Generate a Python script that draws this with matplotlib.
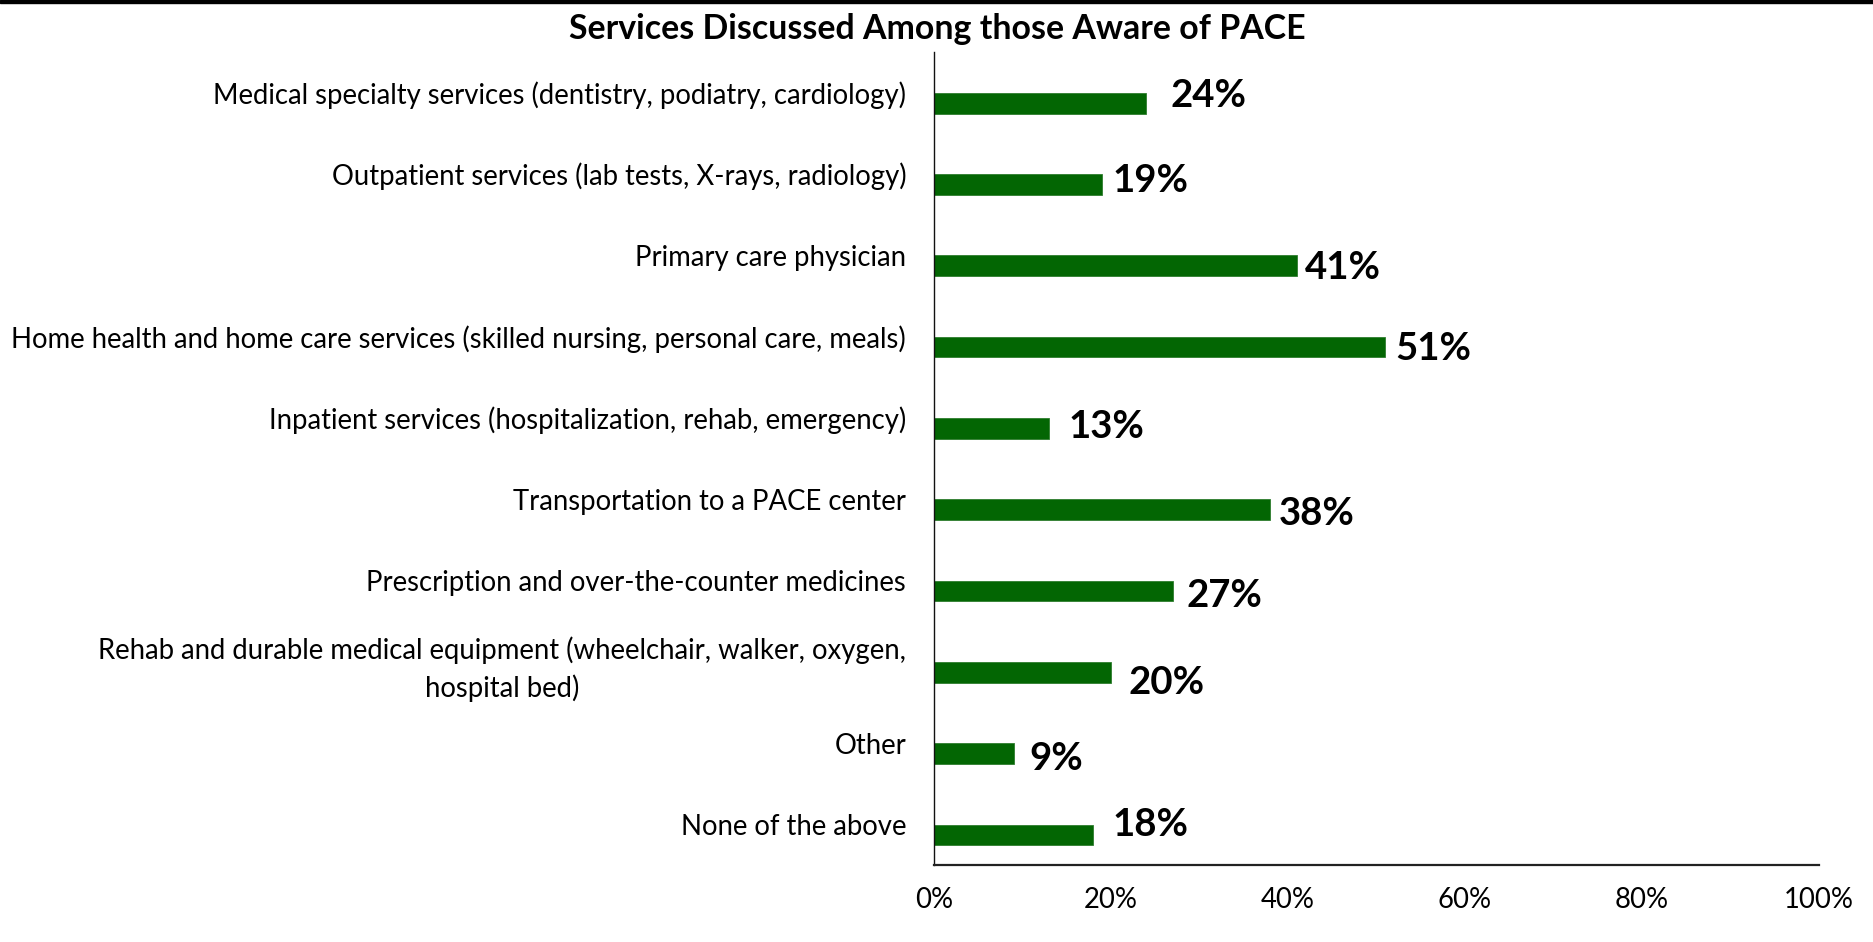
import matplotlib
matplotlib.use("Agg")
import matplotlib.pyplot as plt
from matplotlib.patches import Rectangle

plt.rcParams['font.family'] = ['Lato', 'DejaVu Sans']

categories = [
    "Medical specialty services (dentistry, podiatry, cardiology)",
    "Outpatient services (lab tests, X-rays, radiology)",
    "Primary care physician",
    "Home health and home care services (skilled nursing, personal care, meals)",
    "Inpatient services (hospitalization, rehab, emergency)",
    "Transportation to a PACE center",
    "Prescription and over-the-counter medicines",
    "Rehab and durable medical equipment (wheelchair, walker, oxygen,\nhospital bed)",
    "Other",
    "None of the above",
]
values = [24, 19, 41, 51, 13, 38, 27, 20, 9, 18]
xticks = [0, 20, 40, 60, 80, 100]
xticklabels = ["0%", "20%", "40%", "60%", "80%", "100%"]
title = "Services Discussed Among those Aware of PACE"

# label placement nudges (pixels) as in the original chart
label_dx = [24, 10, 8, 10, 19, 8, 14, 17, 16, 19]
label_dy = [-7, -4, 2, 2, -1, 4, 5, 11, 5, -10]

W, H = 1874, 942
fig = plt.figure(figsize=(W / 100, H / 100), dpi=100)
ax = fig.add_axes([934 / W, 1 - 865 / H, (1819 - 934) / W, (865 - 52) / H])

bar_color = "#036603"
ypos = list(range(len(categories)))
bar_off = 0.13
ax.barh([y + bar_off for y in ypos], values, height=0.255, color=bar_color,
        edgecolor="#2e7d2e", linewidth=0.6)

ax.set_xlim(0, 100)
ax.set_ylim(len(categories) - 0.5, -0.5)
ax.set_xticks(xticks)
ax.set_xticklabels(xticklabels)
ax.set_yticks(ypos)
ax.set_yticklabels(categories)
ax.tick_params(axis='both', length=0)
ax.tick_params(axis='x', pad=16)
ax.tick_params(axis='y', pad=20)
for lab in ax.get_yticklabels():
    lab.set_multialignment('center')
    lab.set_linespacing(1.45)

for s in ['top', 'right']:
    ax.spines[s].set_visible(False)
ax.spines['left'].set_linewidth(1.0)
ax.spines['left'].set_color('#111111')
ax.spines['bottom'].set_linewidth(1.6)
ax.spines['bottom'].set_color('#222222')

renderer = fig.canvas.get_renderer()

def fit(textobj, target_px):
    fs = textobj.get_fontsize()
    for _ in range(3):
        w = textobj.get_window_extent(renderer).width
        fs = fs * target_px / w
        textobj.set_fontsize(fs)
    return fs

longest = ax.get_yticklabels()[3]
longest.set_fontsize(18)
fs_tick = fit(longest, 893)
for lab in ax.get_yticklabels() + ax.get_xticklabels():
    lab.set_fontsize(fs_tick)

probe = ax.text(0, 0, "24%", fontweight='bold', fontsize=28)
fs_val = fit(probe, 76)
probe.remove()
for y, v, dx, dy in zip(ypos, values, label_dx, label_dy):
    ax.annotate(f"{v}%", xy=(v, y + bar_off), xytext=(dx, -dy),
                textcoords='offset pixels', fontweight='bold', fontsize=fs_val,
                va='center', ha='left', color='black')

t = fig.text(0.5, 1 - 29 / H, title, ha='center', va='center', fontweight='bold', fontsize=22)
fit(t, 735)

fig.add_artist(Rectangle((0, 1 - 2.5 / H), 1, 2.5 / H, transform=fig.transFigure,
                         color='black', zorder=10))

fig.savefig("out.png", dpi=100)
